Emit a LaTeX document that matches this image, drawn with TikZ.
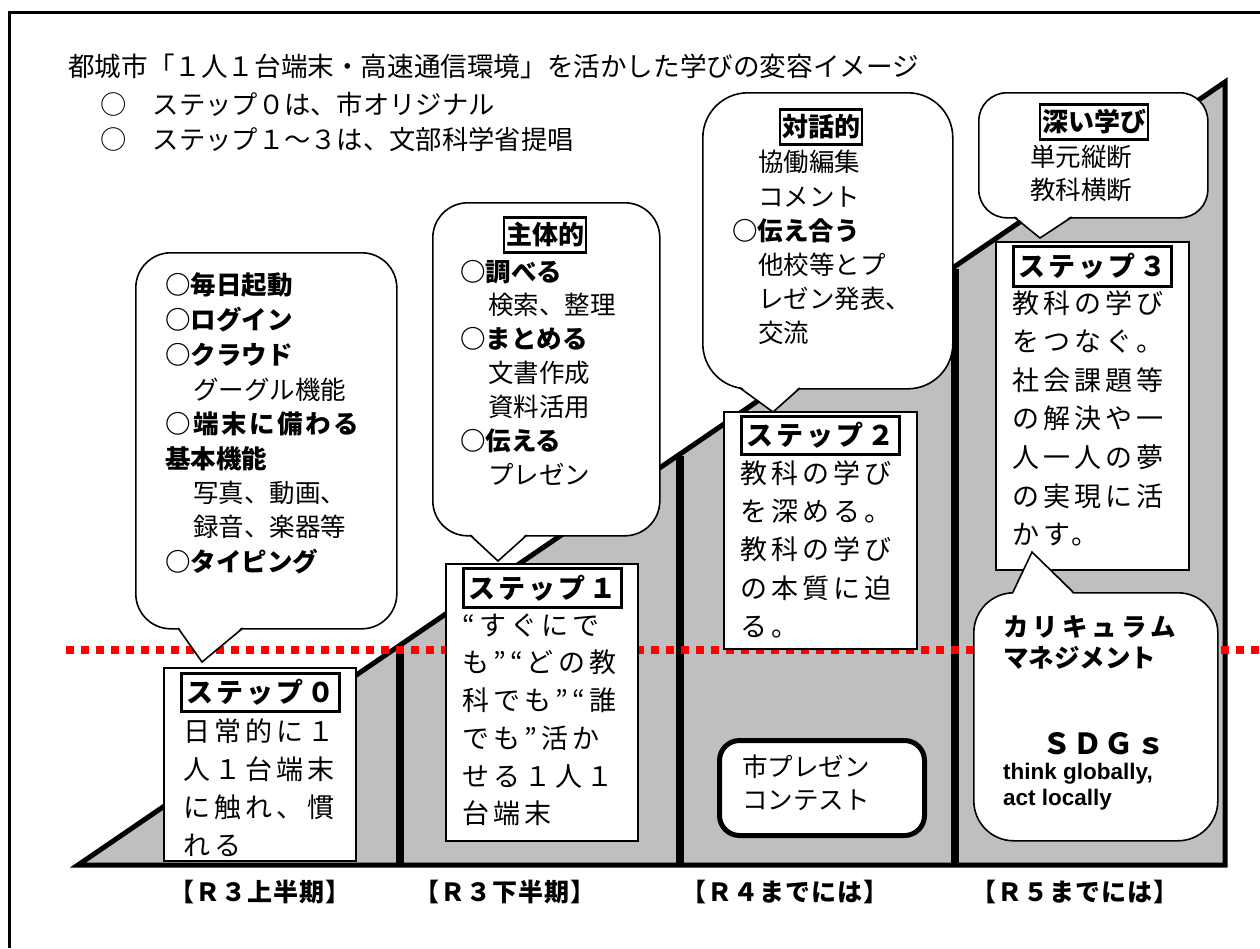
\documentclass[tikz,border=0pt]{standalone}
\usepackage{fontspec}
\setmainfont{Noto Sans CJK JP}
\newfontfamily\lsans{Liberation Sans}
\newcommand\myfs[1]{\fontsize{#1}{#1}\selectfont}
\newcommand\lsp[1]{\addfontfeature{LetterSpace=#1}}
\definecolor{stepgray}{RGB}{191,191,191}
\tikzset{
  t26/.style={anchor=west, inner sep=0pt, font=\myfs{25.5}, text height=22.4pt, text depth=3.1pt},
  b26/.style={t26, font=\myfs{25.5}\bfseries},
  t27/.style={anchor=west, inner sep=0pt, font=\myfs{27}\lsp{15}, text height=23.8pt, text depth=3.2pt},
  stepbox/.style={draw, line width=2pt, fill=white, inner sep=0pt, anchor=north west},
  steptitle/.style={draw, line width=2.5pt, fill=white, inner sep=0pt, anchor=north west,
     font=\myfs{27}\bfseries\lsp{12}, minimum width=158pt},
  ctitle/.style={draw, line width=2.5pt, inner xsep=2pt, inner ysep=0pt, minimum height=35pt,
     font=\myfs{26}\bfseries},
  callout/.style={draw, line width=1.6pt, fill=white, inner sep=0pt, anchor=north west},
  period/.style={inner sep=0pt, font=\myfs{25}\bfseries\lsp{4}},
}
\begin{document}
\begin{tikzpicture}[x=1pt,y=-1pt]
\useasboundingbox (0,0) rectangle (1260,948);
% frame
\draw[line width=3pt] (9,948) -- (9,12) -- (1260,12);
% header
\node[t26, font=\myfs{26.6}] (h1) at (68,67) {都城市「１人１台端末・高速通信環境」を活かした学びの変容イメージ};
\node[t26, font=\myfs{26.3}] (h2) at (100,105) {○　ステップ０は、市オリジナル};
\node[t26, font=\myfs{26.3}] (h3) at (100,140) {○　ステップ１～３は、文部科学省提唱};
% staircase
\fill[stepgray] (78,865) -- (1225,82) -- (1225,865) -- cycle;
\draw[line width=5pt, line join=miter] (78,865) -- (1225,82) -- (1225,865) -- cycle;
\draw[line width=8pt] (400,646) -- (400,865);
\draw[line width=8pt] (680,456) -- (680,865);
\draw[line width=8pt] (955,269) -- (955,865);
% red line
\draw[red, line width=7.5pt, dash pattern=on 7.5pt off 7.5pt] (66,650) -- (1260,650);
% step boxes
\node[stepbox, minimum width=192pt, minimum height=193pt] (s0) at (163,667) {};
\node[stepbox, minimum width=192pt, minimum height=277pt] (s1) at (445,563) {};
\node[stepbox, minimum width=193pt, minimum height=237pt] (s2) at (723,411) {};
\node[stepbox, minimum width=193pt, minimum height=328pt] (s3) at (995,241) {};
\node[steptitle, minimum height=38pt] (s0t) at (180,672) {ステップ０};
\node[steptitle, minimum height=39pt] (s1t) at (462,567) {ステップ１};
\node[steptitle, minimum height=38pt] (s2t) at (740,415) {ステップ２};
\node[steptitle, minimum height=40pt] (s3t) at (1012,245) {ステップ３};
% step texts
\node[t27] (s0a) at (183,731) {日常的に１};
\node[t27] (s0b) at (183,769) {人１台端末};
\node[t27] (s0c) at (183,807) {に触れ、慣};
\node[t27] (s0d) at (183,845) {れる};
\node[t27] (s1a) at (462,625) {“すぐにで};
\node[t27] (s1b) at (462,662) {も”“どの教};
\node[t27] (s1c) at (462,700) {科でも”“誰};
\node[t27] (s1d) at (462,738) {でも”活か};
\node[t27] (s1e) at (462,776) {せる１人１};
\node[t27] (s1f) at (462,813) {台端末};
\node[t27] (s2a) at (740,473) {教科の学び};
\node[t27] (s2b) at (740,511) {を深める。};
\node[t27] (s2c) at (740,549) {教科の学び};
\node[t27] (s2d) at (740,588) {の本質に迫};
\node[t27] (s2e) at (740,626) {る。};
\node[t27] (s3a) at (1012,303) {教科の学び};
\node[t27] (s3b) at (1012,341) {をつなぐ。};
\node[t27] (s3c) at (1012,380) {社会課題等};
\node[t27] (s3d) at (1012,418) {の解決や一};
\node[t27] (s3e) at (1012,457) {人一人の夢};
\node[t27] (s3f) at (1012,496) {の実現に活};
\node[t27] (s3g) at (1012,534) {かす。};
% callout 0
\node[callout, rounded corners=35pt, minimum width=261pt, minimum height=376pt] (c0) at (135,252) {};
\fill[white] (178,626) -- (202,662) -- (243,626) -- cycle;
\draw[line width=1.6pt] (178,628) -- (202,662) -- (243,628);
\node[b26] (c0a) at (165,285) {○毎日起動};
\node[b26] (c0b) at (165,320) {○ログイン};
\node[b26] (c0c) at (165,355) {○クラウド};
\node[t26] (c0d) at (193,390) {グーグル機能};
\node[b26, font=\myfs{25.5}\bfseries\lsp{10}] (c0e) at (165,424) {○端末に備わる};
\node[b26] (c0f) at (165,459) {基本機能};
\node[t26] (c0g) at (193,493) {写真、動画、};
\node[t26] (c0h) at (193,527) {録音、楽器等};
\node[b26] (c0i) at (165,562) {○タイピング};
% callout 1
\node[callout, rounded corners=35pt, minimum width=227pt, minimum height=333pt] (c1) at (432,202) {};
\fill[white] (470,533) -- (498,561) -- (527,533) -- cycle;
\draw[line width=1.6pt] (470,535) -- (498,561) -- (527,535);
\node[ctitle] (c1t) at (545,235) {主体的};
\node[b26] (c1a) at (460,272) {○調べる};
\node[t26] (c1b) at (488,305) {検索、整理};
\node[b26] (c1c) at (460,339) {○まとめる};
\node[t26] (c1d) at (488,373) {文書作成};
\node[t26] (c1e) at (488,407) {資料活用};
\node[b26] (c1f) at (460,441) {○伝える};
\node[t26] (c1g) at (488,475) {プレゼン};
% callout 2
\node[callout, rounded corners=45pt, minimum width=250pt, minimum height=296pt] (c2) at (702,92) {};
\fill[white] (740,386) -- (773,412) -- (800,386) -- cycle;
\draw[line width=1.6pt] (740,388) -- (773,412) -- (800,388);
\node[ctitle] (c2t) at (821,127) {対話的};
\node[t26] (c2a) at (758,162) {協働編集};
\node[t26] (c2b) at (758,197) {コメント};
\node[b26] (c2c) at (732,231) {○伝え合う};
\node[t26] (c2d) at (758,265) {他校等とプ};
\node[t26] (c2e) at (758,299) {レゼン発表、};
\node[t26] (c2f) at (758,333) {交流};
% callout 3
\node[callout, rounded corners=28pt, minimum width=229pt, minimum height=125pt] (c3) at (978,92) {};
\fill[white] (1014,215) -- (1040,238) -- (1072,215) -- cycle;
\draw[line width=1.6pt] (1014,217) -- (1040,238) -- (1072,217);
\node[ctitle] (c3t) at (1094,122) {深い学び};
\node[t26] (c3a) at (1030,157) {単元縦断};
\node[t26] (c3b) at (1030,190) {教科横断};
% callout 4
\node[callout, rounded corners=40pt, minimum width=244pt, minimum height=248pt] (c4) at (973,592) {};
\fill[white] (1013,594) -- (1032,552) -- (1073,594) -- cycle;
\draw[line width=1.6pt] (1013,592) -- (1032,552) -- (1073,592);
\node[b26, font=\myfs{25.5}\bfseries\lsp{16}] (c4a) at (1003,627) {カリキュラム};
\node[b26] (c4b) at (1003,658) {マネジメント};
\node[b26, font=\myfs{29}\bfseries\lsp{8}] (c4c) at (1042,745) {ＳＤＧｓ};
\node[anchor=base west, inner sep=0pt, font=\lsans\myfs{22.5}\bfseries] (c4d) at (1003,779) {think globally,};
\node[anchor=base west, inner sep=0pt, font=\lsans\myfs{22.5}\bfseries] (c4e) at (1003,805) {act locally};
% city contest box
\node[draw, line width=5pt, fill=white, rounded corners=20pt, minimum width=205pt, minimum height=95pt, anchor=north west] (pc) at (717,738) {};
\node[t26] (pca) at (742,767) {市プレゼン};
\node[t26] (pcb) at (742,800) {コンテスト};
% periods
\node[period] (p0) at (260,892) {【Ｒ３上半期】};
\node[period] (p1) at (505,892) {【Ｒ３下半期】};
\node[period] (p2) at (785,892) {【Ｒ４までには】};
\node[period] (p3) at (1075,892) {【Ｒ５までには】};
\end{tikzpicture}
\end{document}
